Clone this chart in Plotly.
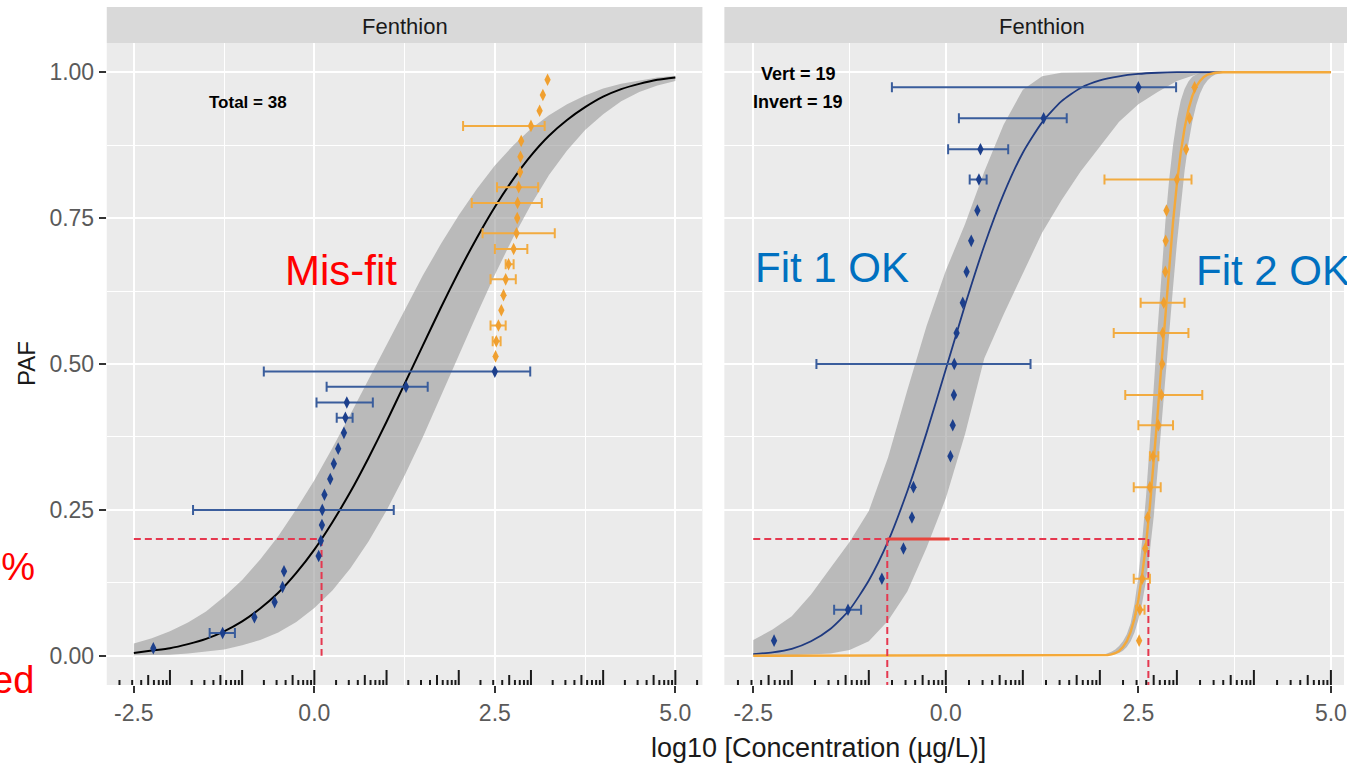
import math
import plotly.graph_objects as go

# ---------------- values ----------------
# Group 1 (blue, "Vert"), sorted log10 concentration, with CI bars where drawn
blue_x = [-2.23, -1.27, -0.83, -0.55, -0.44, -0.42, 0.06, 0.09, 0.105, 0.11,
          0.14, 0.22, 0.27, 0.33, 0.41, 0.43, 0.45, 1.27, 2.50]
blue_lo = [None, -1.45, None, None, None, None, None, None, None, -1.68,
           None, None, None, None, None, 0.31, 0.03, 0.17, -0.70]
blue_hi = [None, -1.10, None, None, None, None, None, None, None, 1.10,
           None, None, None, None, None, 0.53, 0.81, 1.57, 2.99]

# Group 2 (orange, "Invert")
orange_x = [2.51, 2.52, 2.55, 2.59, 2.62, 2.65, 2.69, 2.76, 2.80, 2.81,
            2.815, 2.83, 2.85, 2.855, 2.865, 3.00, 3.12, 3.165, 3.23]
orange_lo = [None, 2.47, 2.44, None, None, 2.44, 2.65, 2.50, 2.33, None,
             2.18, 2.53, None, None, None, 2.06, None, None, None]
orange_hi = [None, 2.58, 2.65, None, None, 2.79, 2.76, 2.95, 3.33, None,
             3.15, 3.10, None, None, None, 3.19, None, None, None]

# PAF plotting positions
paf_pooled_blue = [0.013, 0.039, 0.066, 0.092, 0.118, 0.145, 0.171, 0.197, 0.224, 0.250,
                   0.276, 0.303, 0.329, 0.355, 0.382, 0.408, 0.434, 0.461, 0.487]
paf_pooled_orange = [0.513, 0.539, 0.566, 0.592, 0.618, 0.645, 0.671, 0.697, 0.724, 0.750,
                     0.776, 0.803, 0.829, 0.855, 0.882, 0.908, 0.934, 0.961, 0.987]
paf_group = [0.026, 0.079, 0.132, 0.184, 0.237, 0.289, 0.342, 0.395, 0.447, 0.500,
             0.553, 0.605, 0.658, 0.711, 0.763, 0.816, 0.868, 0.921, 0.974]

# Fitted curves and confidence bands
curve_x = [-2.5, -2.25, -2.0, -1.75, -1.5, -1.25, -1.0, -0.75, -0.5, -0.25, 0.0,
           0.25, 0.5, 0.75, 1.0, 1.25, 1.5, 1.75, 2.0, 2.25, 2.5, 2.75, 3.0,
           3.25, 3.5, 3.75, 4.0, 4.25, 4.5, 4.75, 5.0]
pooled_fit = [0.005, 0.009, 0.013, 0.020, 0.029, 0.042, 0.059, 0.081, 0.108, 0.142, 0.182,
              0.229, 0.281, 0.339, 0.401, 0.466, 0.531, 0.596, 0.658, 0.716, 0.769, 0.816, 0.857,
              0.891, 0.918, 0.940, 0.958, 0.971, 0.980, 0.987, 0.991]
pooled_band_hi = [0.021, 0.030, 0.042, 0.057, 0.076, 0.101, 0.130, 0.165, 0.205, 0.251, 0.301,
                  0.356, 0.414, 0.473, 0.534, 0.593, 0.651, 0.705, 0.755, 0.800, 0.840, 0.874, 0.903,
                  0.926, 0.945, 0.960, 0.972, 0.980, 0.986, 0.991, 0.994]
pooled_band_lo = [0.001, 0.001, 0.002, 0.004, 0.007, 0.011, 0.018, 0.027, 0.040, 0.058, 0.082,
                  0.112, 0.150, 0.196, 0.249, 0.309, 0.374, 0.443, 0.514, 0.585, 0.653, 0.716, 0.773,
                  0.824, 0.866, 0.901, 0.928, 0.950, 0.966, 0.977, 0.985]

blue_fit = [0.003, 0.006, 0.012, 0.025, 0.046, 0.079, 0.129, 0.196, 0.282, 0.382, 0.491,
            0.601, 0.703, 0.791, 0.862, 0.914, 0.950, 0.973, 0.986, 0.993, 0.997, 0.999, 1.0,
            1.0, 1.0, 1.0, 1.0, 1.0, 1.0, 1.0, 1.0]
blue_band_hi = [0.027, 0.045, 0.068, 0.105, 0.150, 0.195, 0.248, 0.340, 0.455, 0.565, 0.660,
                0.740, 0.830, 0.910, 0.970, 0.993, 0.999, 1.0, 1.0, 1.0, 1.0, 1.0, 1.0,
                1.0, 1.0, 1.0, 1.0, 1.0, 1.0, 1.0, 1.0]
blue_band_lo = [0.0, 0.0, 0.001, 0.002, 0.004, 0.010, 0.025, 0.060, 0.110, 0.185, 0.270,
                0.380, 0.510, 0.585, 0.655, 0.725, 0.780, 0.830, 0.873, 0.915, 0.945, 0.966, 0.985,
                0.996, 1.0, 1.0, 1.0, 1.0, 1.0, 1.0, 1.0]

orange_curve_x = [-2.5, 1.5, 2.0, 2.05, 2.1, 2.15, 2.2, 2.25, 2.3, 2.35, 2.4, 2.45, 2.5,
                  2.55, 2.6, 2.65, 2.7, 2.75, 2.8, 2.85, 2.9, 2.95, 3.0, 3.05, 3.1, 3.15,
                  3.2, 3.25, 3.3, 3.35, 3.4, 3.45, 3.5, 3.6, 3.8, 4.0, 5.0]
orange_fit = [0.0, 0.0, 0.0003, 0.0006, 0.0012, 0.0024, 0.0045, 0.0084, 0.015, 0.025, 0.041,
              0.064, 0.096, 0.139, 0.192, 0.257, 0.332, 0.414, 0.5, 0.586, 0.668, 0.743, 0.808,
              0.862, 0.904, 0.936, 0.959, 0.975, 0.985, 0.992, 0.996, 0.998, 0.999, 1.0, 1.0,
              1.0, 1.0]
orange_band_hi = [0.0, 0.0, 0.001, 0.002, 0.004, 0.007, 0.011, 0.017, 0.025, 0.037, 0.056,
                  0.089, 0.136, 0.198, 0.274, 0.363, 0.460, 0.560, 0.655, 0.742, 0.816, 0.875,
                  0.919, 0.951, 0.971, 0.984, 0.992, 0.996, 0.998, 0.999, 1.0, 1.0, 1.0, 1.0,
                  1.0, 1.0, 1.0]
orange_band_lo = [0.0, 0.0, 0.0001, 0.0003, 0.0007, 0.0014, 0.0026, 0.0049, 0.0088, 0.015,
                  0.025, 0.040, 0.062, 0.091, 0.130, 0.180, 0.239, 0.309, 0.385, 0.467, 0.550,
                  0.631, 0.706, 0.773, 0.831, 0.878, 0.915, 0.943, 0.963, 0.977, 0.986, 0.992,
                  0.996, 0.999, 1.0, 1.0, 1.0]

# Hazard-concentration guide lines
hc_level = 0.20
hc_pooled = 0.10
hc_groups = [-0.76, 2.63]
hc_highlight_end = 0.05
x_start = -2.5

x_tickvals = [-2.5, 0.0, 2.5, 5.0]
x_ticktext = ["-2.5", "0.0", "2.5", "5.0"]
x_minor = [-1.25, 1.25, 3.75]
y_tickvals = [0.0, 0.25, 0.5, 0.75, 1.0]
y_ticktext = ["0.00", "0.25", "0.50", "0.75", "1.00"]
y_minor = [0.125, 0.375, 0.625, 0.875]

# ---------------- styling ----------------
W, H = 1347, 766
FONT = "Liberation Sans, Arial, sans-serif"
BLUE_PT = "#1c3f8c"
BLUE_BAR = "#3a5d9c"
BLUE_LINE = "#1f3a80"
ORANGE_PT = "#f0a030"
ORANGE_BAR = "#f2ab40"
ORANGE_LINE = "#f4a93a"
BAND = "rgba(150,150,150,0.58)"
RED = "#e5384f"

PANEL_TOP, PANEL_BOT = 43, 685
L_X0, L_X1 = 107, 704
R_X0 = 726
Y_RANGE = [-0.05, 1.05]
L_RANGE = [-2.875, 5.375]
R_RANGE = [-2.875, 5.17]


def px(v):
    return v / W


def py(v):
    return 1 - v / H


fig = go.Figure()


def add_band(x, lo, hi, xa, ya):
    fig.add_trace(go.Scatter(
        x=list(x) + list(x)[::-1], y=list(hi) + list(lo)[::-1],
        fill="toself", fillcolor=BAND, mode="lines", line=dict(width=0),
        xaxis=xa, yaxis=ya, hoverinfo="skip", showlegend=False))


def add_line(x, y, xa, ya, color, width, dash="solid", shape="linear"):
    fig.add_trace(go.Scatter(
        x=x, y=y, mode="lines", line=dict(color=color, width=width, dash=dash, shape=shape,
                                          smoothing=0.6),
        xaxis=xa, yaxis=ya, hoverinfo="skip", showlegend=False))


def add_points(xs, ys, lo, hi, xa, ya, pt_color, bar_color):
    idx = [i for i in range(len(xs)) if lo[i] is not None]
    fig.add_trace(go.Scatter(
        x=[xs[i] for i in idx], y=[ys[i] for i in idx], mode="markers",
        marker=dict(size=2, opacity=0),
        error_x=dict(type="data", symmetric=False,
                     array=[hi[i] - xs[i] for i in idx],
                     arrayminus=[xs[i] - lo[i] for i in idx],
                     color=bar_color, thickness=2, width=5),
        xaxis=xa, yaxis=ya, hoverinfo="skip", showlegend=False))
    fig.add_trace(go.Scatter(
        x=xs, y=ys, mode="markers",
        marker=dict(symbol="diamond-tall", size=9, color=pt_color),
        xaxis=xa, yaxis=ya, hoverinfo="skip", showlegend=False))


# ----- left panel (pooled fit) -----
add_band(curve_x, pooled_band_lo, pooled_band_hi, "x", "y")
add_line(curve_x, pooled_fit, "x", "y", "black", 2, shape="spline")
add_line([x_start, hc_pooled], [hc_level, hc_level], "x", "y", RED, 2, dash="7px,4px")
add_line([hc_pooled, hc_pooled], [hc_level, 0.0], "x", "y", RED, 2, dash="7px,4px")
add_points(blue_x, paf_pooled_blue, blue_lo, blue_hi, "x", "y", BLUE_PT, BLUE_BAR)
add_points(orange_x, paf_pooled_orange, orange_lo, orange_hi, "x", "y", ORANGE_PT, ORANGE_BAR)

# ----- right panel (two fits) -----
add_band(curve_x, blue_band_lo, blue_band_hi, "x2", "y2")
add_band(orange_curve_x, orange_band_lo, orange_band_hi, "x2", "y2")
add_line(curve_x, blue_fit, "x2", "y2", BLUE_LINE, 1.8, shape="spline")
add_line(orange_curve_x, orange_fit, "x2", "y2", ORANGE_LINE, 2.4)
add_line([x_start, hc_groups[1]], [hc_level, hc_level], "x2", "y2", RED, 2, dash="7px,4px")
for hc in hc_groups:
    add_line([hc, hc], [hc_level, Y_RANGE[0]], "x2", "y2", RED, 2, dash="7px,4px")
add_line([hc_groups[0], hc_highlight_end], [hc_level, hc_level], "x2", "y2", "#e8453c", 3)
add_points(blue_x, paf_group, blue_lo, blue_hi, "x2", "y2", BLUE_PT, BLUE_BAR)
add_points(orange_x, paf_group, orange_lo, orange_hi, "x2", "y2", ORANGE_PT, ORANGE_BAR)

# ----- log ticks along the bottom of each panel -----
shapes = []
panel_h = PANEL_BOT - PANEL_TOP
for xa, ya, rng in (("x", "y", L_RANGE), ("x2", "y2", R_RANGE)):
    for d in range(-3, 6):
        for k in range(1, 10):
            v = d + math.log10(k)
            if rng[0] <= v <= rng[1]:
                ln = 15 if k == 1 else (10 if k == 5 else 5)
                shapes.append(dict(type="line", xref=xa, yref=ya + " domain",
                                   x0=v, x1=v, y0=0, y1=ln / panel_h,
                                   line=dict(color="#1a1a1a", width=2)))

# ----- facet strips -----
for x0, x1 in ((L_X0, L_X1), (R_X0, W + 20)):
    shapes.append(dict(type="rect", xref="paper", yref="paper",
                       x0=px(x0), x1=px(x1), y0=py(PANEL_TOP), y1=py(7),
                       fillcolor="#d9d9d9", line=dict(width=0), layer="below"))

ann = []


def text(s, x, y, size, color, xanchor="center", angle=0, bold=False):
    ann.append(dict(text=("<b>%s</b>" % s) if bold else s, x=px(x), y=py(y),
                    xref="paper", yref="paper", showarrow=False, xanchor=xanchor,
                    yanchor="middle", textangle=angle,
                    font=dict(family=FONT, size=size, color=color)))


text("Fenthion", (L_X0 + L_X1) / 2, 26, 22, "#1a1a1a")
text("Fenthion", 1044.5, 26, 22, "#1a1a1a")
text("Total = 38", 249, 103, 17, "black", bold=True)
text("Vert = 19", 800, 74, 18, "black", bold=True)
text("Invert = 19", 800, 102, 18, "black", bold=True)
text("Mis-fit", 342, 271, 42, "#ff0000")
text("Fit 1 OK", 834, 267, 42, "#0070c0")
text("Fit 2 OK", 1197, 271, 42, "#0070c0", xanchor="left")
text("20%", 37, 567, 38, "#ff0000", xanchor="right")
text("ed", 36, 680, 38, "#ff0000", xanchor="right")
text("PAF", 26, 363, 24, "#1a1a1a", angle=-90)
text("log10 [Concentration (\u00b5g/L)]", 820, 748, 27, "#1a1a1a")

axis_common = dict(showgrid=True, gridcolor="white", gridwidth=2, zeroline=False,
                   showline=False, fixedrange=True,
                   tickfont=dict(family=FONT, size=23, color="#5a5a5a"))

fig.update_layout(
    width=W, height=H, autosize=False,
    margin=dict(l=0, r=0, t=0, b=0, pad=0),
    paper_bgcolor="white", plot_bgcolor="#ebebeb",
    showlegend=False, hovermode=False,
    xaxis=dict(domain=[px(L_X0), px(L_X1)], range=L_RANGE, anchor="y",
               tickmode="array", tickvals=x_tickvals, ticktext=x_ticktext,
               ticks="outside", ticklen=7, tickwidth=1.5, tickcolor="#333333",
               ticklabeloverflow="allow",
               minor=dict(tickvals=x_minor, showgrid=True, gridcolor="white", gridwidth=1, ticks=""),
               **axis_common),
    yaxis=dict(domain=[py(PANEL_BOT), py(PANEL_TOP)], range=Y_RANGE, anchor="x",
               tickmode="array", tickvals=y_tickvals, ticktext=y_ticktext,
               ticks="outside", ticklen=7, tickwidth=1.5, tickcolor="#333333",
               minor=dict(tickvals=y_minor, showgrid=True, gridcolor="white", gridwidth=1, ticks=""),
               **axis_common),
    xaxis2=dict(domain=[px(R_X0), 1.0], range=R_RANGE, anchor="y2",
                tickmode="array", tickvals=x_tickvals, ticktext=x_ticktext,
                ticks="outside", ticklen=7, tickwidth=1.5, tickcolor="#333333",
                ticklabeloverflow="allow",
                minor=dict(tickvals=x_minor, showgrid=True, gridcolor="white", gridwidth=1, ticks=""),
                **axis_common),
    yaxis2=dict(domain=[py(PANEL_BOT), py(PANEL_TOP)], range=Y_RANGE, anchor="x2",
                tickmode="array", tickvals=y_tickvals, showticklabels=False, ticks="",
                minor=dict(tickvals=y_minor, showgrid=True, gridcolor="white", gridwidth=1, ticks=""),
                **axis_common),
    shapes=shapes, annotations=ann,
)

fig.write_html("out.html", include_plotlyjs=True,
               config={"displayModeBar": False},
               post_script="document.body.style.margin='0';document.body.style.overflow='hidden';")
